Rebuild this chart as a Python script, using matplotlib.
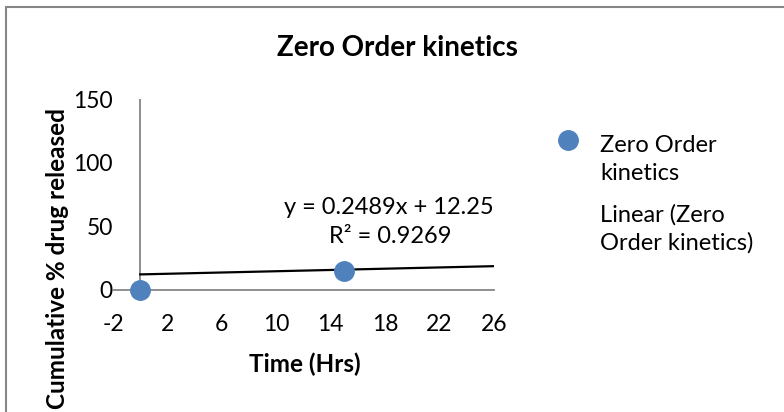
import matplotlib
matplotlib.use("Agg")
import matplotlib.pyplot as plt
from matplotlib.lines import Line2D
from matplotlib.patches import Rectangle
import numpy as np

plt.rcParams['font.family'] = ['Lato', 'DejaVu Sans']

# data
time_hrs = [0, 15]
released = [0, 14.6]
slope = 0.2489
intercept = 12.25
r_squared = 0.9269
x_ticks = [-2, 2, 6, 10, 14, 18, 22, 26]
y_ticks = [0, 50, 100, 150]

blue = '#4F81BD'
gray = '#868686'
W, H = 784, 412


def fx(px):
    return px / W


def fy(py):
    return 1 - py / H


fig = plt.figure(figsize=(7.84, 4.12), dpi=100)

# chart frame (cut at right and bottom, like the original)
fig.add_artist(Rectangle((fx(6), -0.1), 1.2, fy(7) + 0.1,
                         transform=fig.transFigure, fill=False,
                         edgecolor=gray, linewidth=1.5))

ax = fig.add_axes([fx(113), fy(290), 381 / W, 191 / H])
ax.set_xlim(x_ticks[0], x_ticks[-1])
ax.set_ylim(y_ticks[0], y_ticks[-1])
ax.set_xticks(x_ticks)
ax.set_yticks(y_ticks)
ax.set_xticklabels([str(t) for t in x_ticks])
ax.tick_params(axis='both', length=0, labelsize=16.5)
ax.tick_params(axis='x', pad=17)
ax.tick_params(axis='y', pad=0)
for side in ['top', 'right', 'left']:
    ax.spines[side].set_visible(False)
ax.spines['bottom'].set_color(gray)
ax.spines['bottom'].set_linewidth(1.3)
ax.axvline(0, color=gray, linewidth=1.3, zorder=1)

# linear trendline
xs = np.array([0, x_ticks[-1]])
ax.plot(xs, slope * xs + intercept, color='black', linewidth=1.6, zorder=2)

ax.plot(time_hrs, released, 'o', color=blue, markersize=14,
        clip_on=False, zorder=3)

fig.text(fx(388.5), fy(214), f"y = {slope}x + {intercept}", ha='center',
         va='baseline', fontsize=17)
fig.text(fx(390), fy(243), f"R² = {r_squared}", ha='center',
         va='baseline', fontsize=17)

fig.text(fx(397), fy(56), "Zero Order kinetics", ha='center',
         va='baseline', fontsize=20, fontweight='bold')
fig.text(fx(304.5), fy(372), "Time (Hrs)", ha='center', va='baseline',
         fontsize=17.5, fontweight='bold')
fig.text(fx(58), fy(108), "Cumulative % drug released", rotation=90,
         ha='center', va='top', fontsize=17.5, fontweight='bold')

# legend drawn by hand
fig.add_artist(Line2D([fx(568)], [fy(140)], marker='o', color=blue,
                      markersize=14, linestyle='none',
                      transform=fig.transFigure))
legend_lines = ["Zero Order", "kinetics", "Linear (Zero", "Order kinetics)"]
legend_base = [152, 180, 222, 250]
for txt, yy in zip(legend_lines, legend_base):
    fig.text(fx(600), fy(yy), txt, ha='left', va='baseline', fontsize=17)

fig.savefig("out.png", dpi=100)
